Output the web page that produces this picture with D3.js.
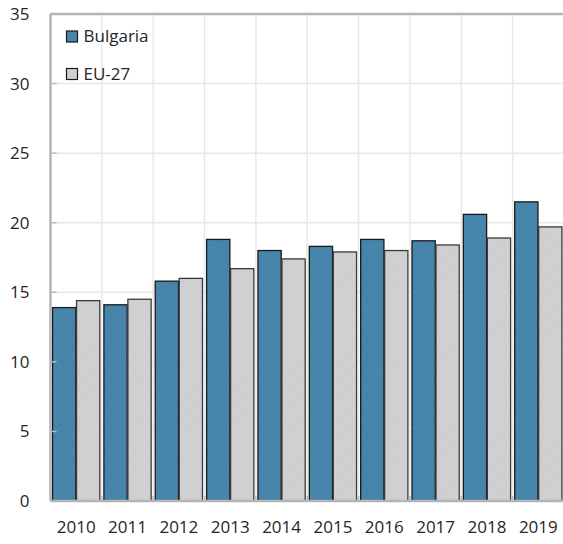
<!DOCTYPE html>
<html>
<head>
<meta charset="utf-8">
<script src="https://cdn.jsdelivr.net/npm/d3@7"></script>
<style>
  body { margin: 0; background: #fff; }
  text { font-family: "Open Sans", "Noto Sans", sans-serif; fill: #262626; }
</style>
</head>
<body>
<div id="chart"></div>
<script>
// Data
const years = ["2010", "2011", "2012", "2013", "2014", "2015", "2016", "2017", "2018", "2019"];
const bulgaria = [13.9, 14.1, 15.8, 18.8, 18.0, 18.3, 18.8, 18.7, 20.6, 21.5];
const eu27 = [14.4, 14.5, 16.0, 16.7, 17.4, 17.9, 18.0, 18.4, 18.9, 19.7];
const seriesNames = ["Bulgaria", "EU-27"];
const yTicks = [0, 5, 10, 15, 20, 25, 30, 35];

const svgWidth = 563,
  svgHeight = 544;
const margin = { top: 14, right: -1, bottom: 43, left: 50.5 },
  width = svgWidth - margin.left - margin.right,
  height = svgHeight - margin.top - margin.bottom;

const svg = d3
  .select("#chart")
  .append("svg")
  .attr("width", svgWidth)
  .attr("height", svgHeight);

// hatch patterns for the bars
const defs = svg.append("defs");
const fills = { "Bulgaria": ["#4886ac", "#4280a6"], "EU-27": ["#d1d0d2", "#cccbcd"] };
seriesNames.forEach(function (s, i) {
  const p = defs
    .append("pattern")
    .attr("id", "hatch" + i)
    .attr("patternUnits", "userSpaceOnUse")
    .attr("width", 4)
    .attr("height", 4)
    .attr("patternTransform", "rotate(45)");
  p.append("rect").attr("width", 4).attr("height", 4).attr("fill", fills[s][0]);
  p.append("rect").attr("width", 1.2).attr("height", 4).attr("fill", fills[s][1]);
});

const g = svg
  .append("g")
  .attr("transform", "translate(" + margin.left + "," + margin.top + ")");

const x = d3.scaleBand().domain(years).range([0, width]).paddingInner(0.08).paddingOuter(0.04);
const xSub = d3.scaleBand().domain(seriesNames).range([0, x.bandwidth()]).paddingInner(0.03);
const y = d3.scaleLinear().domain([0, 35]).range([height, 0]);

// horizontal grid
g.selectAll(".hgrid")
  .data(yTicks.filter((d) => d > 0 && d < 35))
  .enter()
  .append("line")
  .attr("x1", 0)
  .attr("x2", width)
  .attr("y1", (d) => y(d))
  .attr("y2", (d) => y(d))
  .attr("stroke", "#e8e8e8")
  .attr("stroke-width", 1.5);

// vertical grid at category boundaries
const step = x.step();
g.selectAll(".vgrid")
  .data(years.slice(1))
  .enter()
  .append("line")
  .attr("x1", (d) => x(d) - (step - x.bandwidth()) / 2)
  .attr("x2", (d) => x(d) - (step - x.bandwidth()) / 2)
  .attr("y1", 0)
  .attr("y2", height)
  .attr("stroke", "#e8e8e8")
  .attr("stroke-width", 1.5);

// bars
const rows = years.map((yr, i) => ({ year: yr, values: [bulgaria[i], eu27[i]] }));
const groups = g
  .selectAll(".grp")
  .data(rows)
  .enter()
  .append("g")
  .attr("transform", (d) => "translate(" + x(d.year) + ",0)");

groups
  .selectAll("rect")
  .data((d) => d.values.map((v, i) => ({ key: seriesNames[i], i: i, v: v })))
  .enter()
  .append("rect")
  .attr("x", (d) => xSub(d.key))
  .attr("width", xSub.bandwidth())
  .attr("y", (d) => y(d.v))
  .attr("height", (d) => height - y(d.v))
  .attr("fill", (d) => "url(#hatch" + d.i + ")")
  .attr("stroke", (d) => (d.i === 0 ? "#1a1a1a" : "#3a3a3a"))
  .attr("stroke-width", 1.3);

// bottom tick marks (pointing up) at boundaries
g.selectAll(".xtick")
  .data(years.slice(1))
  .enter()
  .append("line")
  .attr("x1", (d) => x(d) - (step - x.bandwidth()) / 2)
  .attr("x2", (d) => x(d) - (step - x.bandwidth()) / 2)
  .attr("y1", height)
  .attr("y2", height - 5)
  .attr("stroke", "#bbb")
  .attr("stroke-width", 1.5);

// left tick marks (pointing in)
g.selectAll(".ytick")
  .data(yTicks.filter((d) => d > 0 && d < 35))
  .enter()
  .append("line")
  .attr("x1", 0)
  .attr("x2", 6)
  .attr("y1", (d) => y(d))
  .attr("y2", (d) => y(d))
  .attr("stroke", "#bbb")
  .attr("stroke-width", 1.5);

// frame: left, top, bottom
g.append("line").attr("x1", 0).attr("x2", 0).attr("y1", 0).attr("y2", height)
  .attr("stroke", "#b4b4b4").attr("stroke-width", 2.5);
g.append("line").attr("x1", 0).attr("x2", width).attr("y1", 0).attr("y2", 0)
  .attr("stroke", "#b4b4b4").attr("stroke-width", 2.5);
g.append("line").attr("x1", 0).attr("x2", width).attr("y1", height).attr("y2", height)
  .attr("stroke", "#b4b4b4").attr("stroke-width", 2.5);

// y labels
g.selectAll(".ylab")
  .data(yTicks)
  .enter()
  .append("text")
  .attr("x", -21)
  .attr("y", (d) => y(d))
  .attr("dy", "0.35em")
  .attr("text-anchor", "end")
  .style("font-size", "17px")
  .text((d) => d);

// x labels
g.selectAll(".xlab")
  .data(years)
  .enter()
  .append("text")
  .attr("x", (d) => x(d) + x.bandwidth() / 2)
  .attr("y", height + 32)
  .attr("text-anchor", "middle")
  .style("font-size", "17px")
  .text((d) => d);

// legend
const legend = g
  .selectAll(".legend")
  .data(seriesNames)
  .enter()
  .append("g")
  .attr("transform", (d, i) => "translate(16," + (17 + i * 37.5) + ")");
legend
  .append("rect")
  .attr("width", 11)
  .attr("height", 11)
  .attr("fill", (d, i) => "url(#hatch" + i + ")")
  .attr("stroke", "#1a1a1a")
  .attr("stroke-width", 1.2);
legend
  .append("text")
  .attr("x", 17)
  .attr("y", 5.5)
  .attr("dy", "0.35em")
  .style("font-size", "17px")
  .text((d) => d);
</script>
</body>
</html>
